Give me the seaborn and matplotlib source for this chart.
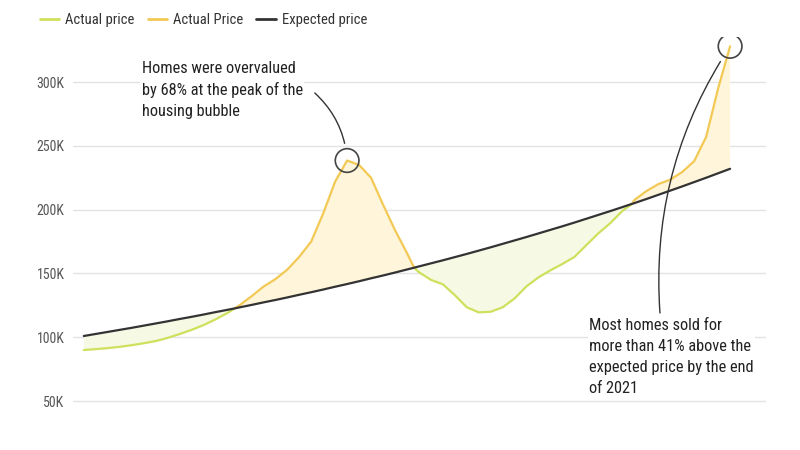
import matplotlib
matplotlib.use("Agg")
import matplotlib.pyplot as plt
from matplotlib.lines import Line2D
from matplotlib.ticker import FuncFormatter
from matplotlib import font_manager
import seaborn as sns
import pandas as pd
import numpy as np

# Half-yearly readings (thousands of dollars), plus the three crossing points
years = [1995.0, 1995.5, 1996.0, 1996.5, 1997.0, 1997.5, 1998.0, 1998.5, 1999.0, 1999.5,
         2000.0, 2000.5, 2001.0, 2001.3, 2001.5, 2002.0, 2002.5, 2003.0, 2003.5, 2004.0,
         2004.5, 2005.0, 2005.5, 2006.0, 2006.5, 2007.0, 2007.5, 2008.0, 2008.5, 2008.8,
         2009.0, 2009.5, 2010.0, 2010.5, 2011.0, 2011.5, 2012.0, 2012.5, 2013.0, 2013.5,
         2014.0, 2014.5, 2015.0, 2015.5, 2016.0, 2016.5, 2017.0, 2017.5, 2017.9, 2018.0,
         2018.5, 2019.0, 2019.5, 2020.0, 2020.5, 2021.0, 2021.5, 2022.0]

actual = [90.0, 90.7, 91.5, 92.5, 93.8, 95.3, 97.0, 99.5, 102.5, 105.8,
          109.5, 114.0, 119.0, 122.6, 125.0, 132.0, 139.6, 145.5, 153.0, 163.0,
          175.0, 197.0, 222.0, 238.5, 235.0, 225.0, 204.0, 184.0, 166.0, 154.5,
          151.0, 145.0, 141.5, 133.0, 123.5, 119.5, 120.0, 123.5, 130.5, 140.0,
          147.0, 152.5, 157.5, 163.0, 172.3, 181.5, 189.5, 199.0, 204.5, 207.5,
          214.5, 220.0, 223.5, 229.5, 238.0, 257.0, 295.0, 328.0]

expected = [101.0, 102.6, 104.2, 105.8, 107.4, 109.1, 110.8, 112.5, 114.3, 116.0,
            117.8, 119.7, 121.5, 122.6, 123.4, 125.3, 127.3, 129.2, 131.2, 133.3,
            135.3, 137.4, 139.6, 141.7, 143.9, 146.2, 148.4, 150.7, 153.1, 154.5,
            155.5, 157.9, 160.3, 162.8, 165.3, 167.9, 170.5, 173.2, 175.9, 178.6,
            181.4, 184.2, 187.0, 189.9, 192.9, 195.9, 198.9, 202.0, 204.5, 205.1,
            208.3, 211.6, 214.9, 218.2, 221.6, 225.0, 228.5, 232.0]

series_names = ["Actual price", "Actual Price", "Expected price"]
GREEN, ORANGE, DARK = "#cfe05c", "#f3c955", "#333333"
GREEN_FILL, ORANGE_FILL = "#f6fae5", "#fef5da"

yr = np.array(years)
act = np.array(actual) * 1000
exp_ = np.array(expected) * 1000

# split the actual price into below (green) / above (orange) segments
rows = []
seg = 0
cur = None
pending = None
for x, a, e in zip(yr, act, exp_):
    if a == e:
        if cur is not None:
            rows.append((x, a, cur, seg))
        pending = (x, a)
        cur = None
        continue
    name = series_names[1] if a > e else series_names[0]
    if cur != name:
        seg += 1
        cur = name
        if pending is not None:
            rows.append((pending[0], pending[1], name, seg))
            pending = None
    rows.append((x, a, name, seg))
df_act = pd.DataFrame(rows, columns=["year", "price", "series", "segment"])
df_exp = pd.DataFrame({"year": yr, "price": exp_})

sns.set_theme(style="white")
installed = {f.name for f in font_manager.fontManager.ttflist}
fams = [f for f in ["Roboto Condensed", "Liberation Sans Narrow"] if f in installed] + ["Roboto", "DejaVu Sans"]
plt.rcParams["font.family"] = fams

fig = plt.figure(figsize=(8, 4.5), dpi=100)
ax = fig.add_axes([0.091, 0.052, 0.8665, 0.865])

ax.fill_between(yr, act, exp_, where=act <= exp_, interpolate=True, color=GREEN_FILL, lw=0, zorder=1)
ax.fill_between(yr, act, exp_, where=act >= exp_, interpolate=True, color=ORANGE_FILL, lw=0, zorder=1)

sns.lineplot(data=df_act, x="year", y="price", hue="series", units="segment", estimator=None,
             palette={series_names[0]: GREEN, series_names[1]: ORANGE}, lw=1.6,
             legend=False, ax=ax, zorder=3)
sns.lineplot(data=df_exp, x="year", y="price", color=DARK, lw=1.6, legend=False, ax=ax, zorder=4)

ax.set_xlim(1994.54, 2023.5)
ax.set_ylim(30000, 335000)
ax.set_yticks([50000, 100000, 150000, 200000, 250000, 300000])
ax.yaxis.set_major_formatter(FuncFormatter(lambda v, p: f"{int(v / 1000)}K"))
ax.set_xticks([])
ax.set_xlabel("")
ax.set_ylabel("")
ax.grid(axis="y", color="#e3e3e3", lw=1)
ax.set_axisbelow(True)
for s in ax.spines.values():
    s.set_visible(False)
ax.tick_params(axis="y", length=0, pad=6, labelsize=10, labelcolor="#555555")

# circles at the bubble peak and at the latest value
i_peak = int(np.argmax(act[:30]))
ax.scatter([yr[i_peak], yr[-1]], [act[i_peak], act[-1]], s=290, facecolors="none",
           edgecolors="#444444", linewidths=1.2, zorder=5)

# annotations
ax.text(1997.42, 316500, "Homes were overvalued\nby 68% at the peak of the\nhousing bubble",
        fontsize=11.8, color="#222222", va="top", ha="left", linespacing=1.5,
        bbox=dict(facecolor="white", edgecolor="none", pad=1), zorder=6)
ax.annotate("", xy=(yr[i_peak], act[i_peak]), xytext=(2004.65, 291400),
            arrowprops=dict(arrowstyle="-", color="#333333", lw=1,
                            connectionstyle="arc3,rad=-0.2", shrinkA=0, shrinkB=12.5), zorder=6)

ax.text(2016.1, 115000, "Most homes sold for\nmore than 41% above the\nexpected price by the end\nof 2021",
        fontsize=11.8, color="#222222", va="top", ha="left", linespacing=1.5,
        bbox=dict(facecolor="white", edgecolor="none", pad=1), zorder=6)
ax.annotate("", xy=(yr[-1], act[-1]), xytext=(2019.07, 119000),
            arrowprops=dict(arrowstyle="-", color="#333333", lw=1,
                            connectionstyle="arc3,rad=-0.17", shrinkA=0, shrinkB=13), zorder=6)

handles = [Line2D([], [], color=GREEN, lw=2), Line2D([], [], color=ORANGE, lw=2),
           Line2D([], [], color=DARK, lw=2)]
fig.legend(handles, series_names, loc="center left", bbox_to_anchor=(0.033, 0.955), ncol=3,
           frameon=False, fontsize=10.5, handlelength=1.35, handletextpad=0.4,
           columnspacing=0.9, labelcolor="#333333")

fig.savefig("out.png", dpi=100)
plt.close(fig)
